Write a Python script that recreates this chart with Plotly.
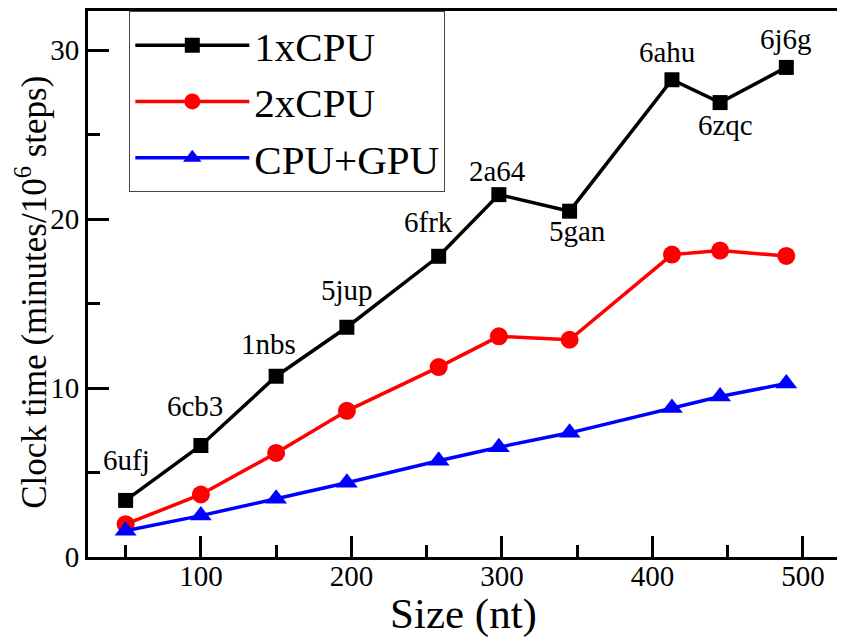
import plotly.graph_objects as go

# Data
size_nt = [50, 100, 150, 197, 258, 298, 345, 413, 445, 489]
pdb_ids = ["6ufj", "6cb3", "1nbs", "5jup", "6frk", "2a64", "5gan", "6ahu", "6zqc", "6j6g"]

cpu1 = [3.35, 6.6, 10.7, 13.6, 17.8, 21.45, 20.47, 28.25, 26.9, 28.98]
cpu2 = [1.94, 3.7, 6.16, 8.65, 11.24, 13.06, 12.86, 17.9, 18.14, 17.82]
cpu_gpu = [1.55, 2.45, 3.45, 4.4, 5.7, 6.5, 7.35, 8.82, 9.5, 10.27]

# pixel offsets of each PDB label from its point (x right, y up)
label_offsets = [(1, 40), (-6, 40), (-8, 32), (0, 37), (-10, 34),
                 (-1, 24), (8, -20), (-5, 28), (5, -22), (0, 28)]

FONT = "Liberation Serif, Times New Roman, serif"

fig = go.Figure()

fig.add_trace(go.Scatter(
    x=size_nt, y=cpu1, name="1xCPU", mode="lines+markers",
    line={"color": "#000000", "width": 3.5},
    marker={"symbol": "square", "size": 15, "color": "#000000"},
))
fig.add_trace(go.Scatter(
    x=size_nt, y=cpu2, name="2xCPU", mode="lines+markers",
    line={"color": "#FF0000", "width": 3.5},
    marker={"symbol": "circle", "size": 18, "color": "#FF0000"},
))
fig.add_trace(go.Scatter(
    x=size_nt, y=cpu_gpu, name="CPU+GPU", mode="lines+markers",
    line={"color": "#0000FF", "width": 3.5},
    marker={"symbol": "triangle-up", "size": 19, "color": "#0000FF"},
))

# PDB labels on the 1xCPU curve
for x, y, txt, (dx, dy) in zip(size_nt, cpu1, pdb_ids, label_offsets):
    fig.add_annotation(
        x=x, y=y, text=txt, showarrow=False,
        xshift=dx, yshift=dy,
        font={"family": FONT, "size": 29, "color": "#000000"},
    )

# y-axis title as a rotated annotation so it can sit close to the edge
fig.add_annotation(
    text="Clock time (minutes/10<sup>6</sup> steps)",
    xref="paper", yref="paper", x=-0.075, y=0.485,
    xanchor="center", yanchor="middle", textangle=-90, showarrow=False,
    font={"family": FONT, "size": 35, "color": "#000000"},
)

axis_common = dict(
    showline=True, linecolor="#000000", linewidth=3, mirror=True,
    ticks="inside", ticklen=21, tickwidth=3, tickcolor="#000000",
    showgrid=False, zeroline=False,
    tickfont={"family": FONT, "size": 29, "color": "#000000"},
)

# page body adds an 8px offset, so the figure is trimmed to fit the window
fig.update_layout(
    width=837, height=630,
    margin=dict(l=80, r=6, t=0, b=81),
    paper_bgcolor="#FFFFFF",
    plot_bgcolor="#FFFFFF",
    font={"family": FONT, "color": "#000000"},
    xaxis=dict(
        range=[25, 524], tickvals=[100, 200, 300, 400, 500],
        minor=dict(tickvals=[50, 150, 250, 350, 450], ticks="inside",
                   ticklen=12, tickwidth=3, tickcolor="#000000"),
        ticklabelstandoff=-9,
        title={"text": "Size (nt)", "font": {"family": FONT, "size": 43},
               "standoff": 0},
        **axis_common,
    ),
    yaxis=dict(
        range=[0, 32.32], tickvals=[0, 10, 20, 30],
        minor=dict(tickvals=[5, 15, 25], ticks="inside",
                   ticklen=12, tickwidth=3, tickcolor="#000000"),
        **axis_common,
    ),
    legend=dict(
        x=0.055, y=1.0, xanchor="left", yanchor="top",
        bgcolor="#FFFFFF", bordercolor="#444444", borderwidth=1,
        font={"family": FONT, "size": 41, "color": "#000000"},
        tracegroupgap=0, itemwidth=114,
    ),
    showlegend=True,
)

fig.write_html("out.html")
